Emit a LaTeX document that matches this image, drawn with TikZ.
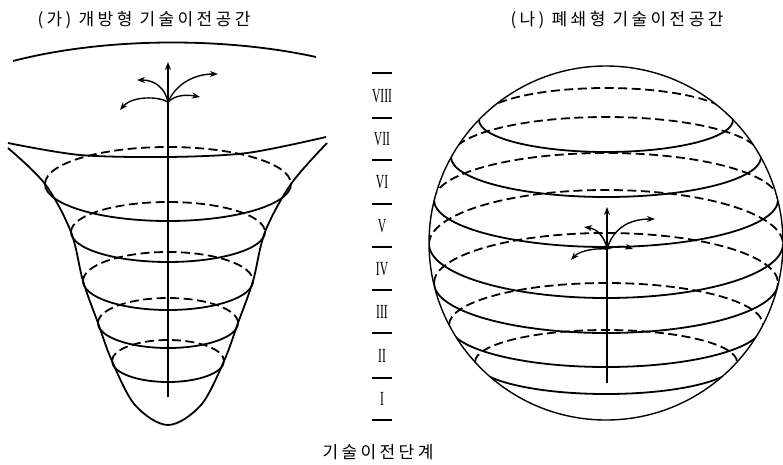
\documentclass[tikz,border=0pt]{standalone}
\usepackage{fontspec}
\usepackage{graphicx}
\newfontfamily\korfont[LetterSpace=20]{Noto Sans CJK KR}
\newfontfamily\numfont{Liberation Serif}
\usetikzlibrary{arrows.meta}

\begin{document}
\begin{tikzpicture}[x=1pt,y=-1pt,>={Stealth[length=8pt,width=6pt]},
  ttl/.style={font=\korfont\fontsize{17}{20}\selectfont},
  rom/.style={font=\numfont\fontsize{20}{20}\selectfont},
  wire/.style={line width=1.8pt},
  twig/.style={line width=1.4pt,->},
  hid/.style={line width=1.8pt,dash pattern=on 9pt off 4.5pt}]
\useasboundingbox (0,0) rectangle (783,464);

% titles
\node[ttl] (ttlA) at (144,20) {(가) 개방형 기술이전공간};
\node[ttl] (ttlB) at (617,20) {(나) 폐쇄형 기술이전공간};
\node[ttl] (stage) at (378,452) {기술이전단계};

% (ga) open space
\draw[wire] (13,61) .. controls (110,36) and (230,38) .. (316,57);
\draw[wire] plot[smooth] coordinates {(8,143) (80,155) (167,157) (247,153) (326,137)};
\draw[wire] plot[smooth,tension=0.55] coordinates {(8,148) (45,184) (71,232) (83,281) (98,323)
  (112,361) (135,405) (168,425) (201,405) (224,361) (238,323) (253,281) (265,232) (291,184) (327,143)};
\foreach \cy/\rx/\ry in {184/123/37, 232/97/30, 281/85/29, 323/70/25, 361/56/21}{
  \draw[hid] (168-\rx,\cy) arc[start angle=180,end angle=360,x radius=\rx,y radius=\ry];
  \draw[wire] (168-\rx,\cy) arc[start angle=180,end angle=0,x radius=\rx,y radius=\ry];
}
\coordinate (forkA) at (168,102);
\draw[wire,->] (168,397) -- (168,62);
\draw[twig] (forkA) .. controls (165,88) and (155,80) .. (137,80);
\draw[twig] (forkA) .. controls (175,86) and (192,74) .. (218,74);
\draw[twig] (forkA) .. controls (158,96) and (132,96) .. (120,110);
\draw[twig] (forkA) .. controls (174,96) and (184,94) .. (200,97);

% stages
\foreach \y in {73,118,160,204,247,290,333,378,420}
  \draw[line width=1.6pt] (372,\y) -- (392,\y);
\foreach \t/\y [count=\i] in {VIII/96,VII/139,VI/182,V/226,IV/269,III/312,II/356,I/399}
  \node[rom] (st\i) at (382,\y) {\scalebox{0.58}[1]{\t}};

% (na) closed space
\begin{scope}
\clip (606,243) circle[radius=177];
\foreach \cy/\rx/\ry in {120/127/32, 157/155/40, 200/172/47, 244/177/54, 283/172/50, 325/157/42, 362/131/32}{
  \draw[hid] (606-\rx,\cy) arc[start angle=180,end angle=360,x radius=\rx,y radius=\ry];
  \draw[wire] (606-\rx,\cy) arc[start angle=180,end angle=0,x radius=\rx,y radius=\ry];
}
\end{scope}
\draw[line width=1.4pt] (606,243) circle[radius=177];
\coordinate (forkB) at (607,249);
\draw[wire,->] (607,383) -- (607,207);
\draw[twig] (forkB) .. controls (605,238) and (598,229) .. (584,227);
\draw[twig] (forkB) .. controls (612,232) and (625,219) .. (655,219);
\draw[twig] (forkB) .. controls (598,248) and (580,250) .. (571,260);
\draw[twig] (forkB) .. controls (615,246) and (624,246) .. (633,249);
\end{tikzpicture}
\end{document}
